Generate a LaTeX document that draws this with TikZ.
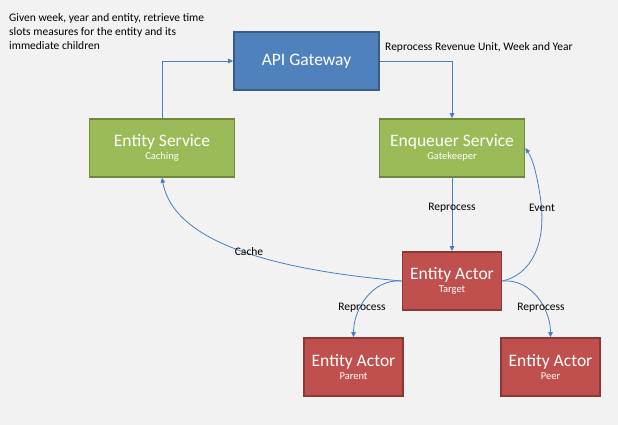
\documentclass[tikz,border=0pt]{standalone}
\usepackage{fontspec}
\setmainfont{Carlito}
\usetikzlibrary{arrows.meta}
\definecolor{bg}{HTML}{F2F2F2}
\definecolor{bluef}{HTML}{4F81BD}
\definecolor{blued}{HTML}{385D8A}
\definecolor{greenf}{HTML}{9BBB59}
\definecolor{greend}{HTML}{71893F}
\definecolor{redf}{HTML}{C0504D}
\definecolor{redd}{HTML}{8C3836}
\definecolor{linec}{HTML}{4A7EBB}
\tikzset{
  boxbase/.style={draw, line width=1.6pt, minimum width=145pt, minimum height=58pt, align=center, text=white, inner sep=0pt},
  bluebox/.style={boxbase, fill=bluef, draw=blued},
  greenbox/.style={boxbase, fill=greenf, draw=greend},
  redbox/.style={boxbase, fill=redf, draw=redd, minimum width=99pt, minimum height=58pt},
  conn/.style={draw=linec, line width=0.8pt, -{Triangle[length=5pt,width=4.5pt]}},
  lbl/.style={font=\fontsize{11.5}{13}\selectfont, text=black, inner sep=0pt},
}
\newcommand{\boxtitle}[2]{{\fontsize{17.5}{19}\selectfont #1}\\[1.5pt]{\fontsize{10.5}{12}\selectfont #2}}
\begin{document}
\begin{tikzpicture}[x=1pt,y=1pt]
\fill[bg] (0,0) rectangle (618,-425);
\useasboundingbox (0,0) rectangle (618,-425);

\node[lbl, anchor=north west, align=left, font=\fontsize{11.5}{14}\selectfont] (cap) at (9,-13)
  {Given week, year and entity, retrieve time\\slots measures for the entity and its\\immediate children};

\node[bluebox] (api) at (306.5,-61) {{\fontsize{17.5}{19}\selectfont API Gateway}};
\node[greenbox] (es) at (162,-148) {\boxtitle{Entity Service}{Caching}};
\node[greenbox] (enq) at (452,-148) {\boxtitle{Enqueuer Service}{Gatekeeper}};
\node[redbox] (ea) at (452,-281) {\boxtitle{Entity Actor}{Target}};
\node[redbox] (par) at (353.5,-367) {\boxtitle{Entity Actor}{Parent}};
\node[redbox] (peer) at (550.5,-367) {\boxtitle{Entity Actor}{Peer}};

\draw[conn] (es.north) |- (api.west);
\draw[conn] (api.east) -| (enq.north);
\node[lbl, anchor=west] (lrev) at (385,-47) {Reprocess Revenue Unit, Week and Year};

\draw[conn] (enq.south) -- (ea.north);
\node[lbl] (lrep) at (452,-208) {Reprocess};

\draw[conn] (ea.east) .. controls (530,-275) and (548,-245) .. (540,-195) .. controls (536,-170) and (532,-158) .. (enq.east);
\node[lbl] (lev) at (542,-208) {Event};

\draw[conn] (ea.west) .. controls (300,-272) and (175,-250) .. (es.south);
\node[lbl] (lca) at (249,-252) {Cache};

\draw[conn] (ea.west) to[out=175,in=90] (par.north);
\node[lbl] (lrp) at (362,-308) {Reprocess};

\draw[conn] (ea.east) to[out=5,in=90] (peer.north);
\node[lbl] (lrq) at (541,-308) {Reprocess};
\end{tikzpicture}
\end{document}
